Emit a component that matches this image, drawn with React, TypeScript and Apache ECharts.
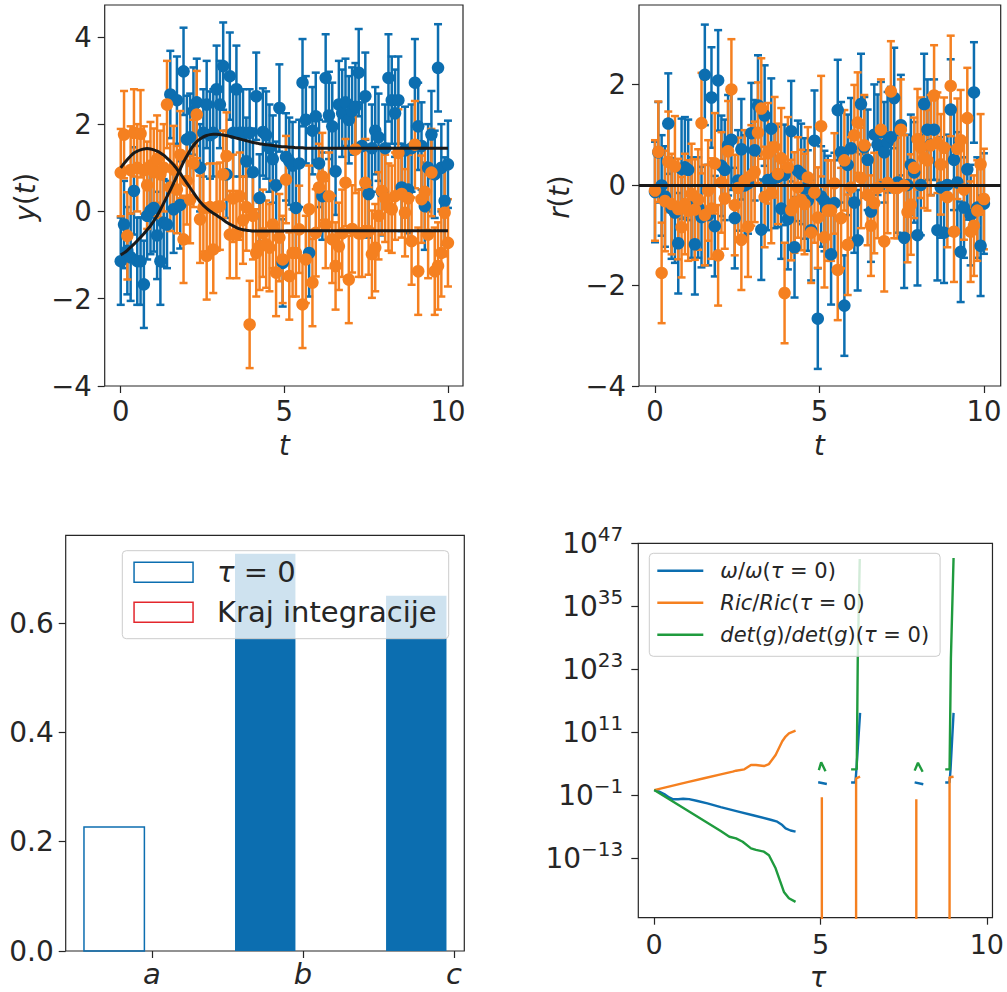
import React, { useEffect, useRef } from "react";
import * as echarts from "echarts";

const FONT = '"DejaVu Sans", Verdana, sans-serif';
const BLUE = "#0c6eb0";
const ORANGE = "#f58020";
const GREEN = "#1f9b3e";
const RED = "#e3262c";
const INK = "#262626";
const CURVE = "#1a1a1a";

// ---------- top panels: y(t) with error bars, model curves ----------
const N = 100;
const tValues = Array.from({ length: N }, (_, i) => (i * 10) / (N - 1));
const sigma = 1.0;

const yBlue = [
  -1.14, -0.3, -0.9, -1.05, 0.47, -1.14, -1.14, -1.67, -0.1, 0.02,
  0.08, -0.55, -1.14, -0.26, -0.3, 2.68, 0.05, 2.55, 0.15, 3.21,
  1.65, 1.7, 2.3, 2.5, 1.0, 1.8, 2.45, 1.75, 1.8, 2.8,
  2.45, 3.33, 0.85, 3.1, 1.8, 2.8, 1.8, 1.8, 1.15, 1.8,
  0.9, 2.64, 0.31, 1.82, 1.75, 1.45, 1.2, 0.6, 2.37, -1.18,
  1.25, 1.15, 1.05, 0.08, 1.1, 2.95, 2.1, -0.95, 1.85, 2.18,
  1.1, 0.35, 3.06, 2.2, 1.95, 0.92, 2.45, 2.25, 2.5, 2.1,
  2.3, 2.4, 3.18, 1.5, 2.64, 0.4, 1.45, 1.85, 1.7, 0.45,
  1.45, 3.06, 2.55, 2.25, 2.55, 0.55, 1.4, 0.5, 1.45, 2.95,
  1.95, 1.5, 0.12, 1.0, 1.76, 0.85, 3.29, 1.0, 0.24, 1.08,
];

const yOrange = [
  0.89, 1.76, -0.56, 0.95, 1.8, 1.0, 1.78, 0.95, 0.6, 1.05,
  0.9, 1.2, 0.85, 1.0, 2.45, 0.55, 0.96, 0.5, 1.3, -0.64,
  0.7, 0.27, 1.1, 2.22, -0.18, 0.08, -1.02, 0.1, -0.87, 0.1,
  0.12, 0.85, 1.27, -0.53, 0.3, -0.53, 0.35, -0.2, 0.1, -2.59,
  -0.1, -0.95, -0.8, -0.5, -0.75, -0.83, -0.3, -1.4, -0.6, -1.1,
  0.73, -1.48, -0.95, -0.95, -0.41, -2.13, -1.1, 0.05, -1.63, -0.49,
  0.55, 0.8, -0.3, 0.35, -0.64, -1.25, -0.8, -0.5, 0.66, -1.56,
  -0.4, 1.42, -0.5, -0.5, 0.66, -0.45, -0.98, -0.83, -0.1, 0.47,
  0.3, 0.1, 0.05, 0.35, 1.34, 0.4, -0.03, 0.3, -0.68, 1.53,
  -1.37, 0.28, 0.45, -0.53, 0.89, -1.37, -1.25, -0.95, -0.03, -0.72,
];

const modelBlue = [
  -1.0, -0.95, -0.89, -0.82, -0.75, -0.67, -0.59, -0.51, -0.42, -0.33,
  -0.22, -0.1, 0.04, 0.19, 0.34, 0.49, 0.65, 0.81, 0.97, 1.13,
  1.27, 1.4, 1.51, 1.6, 1.66, 1.71, 1.74, 1.76, 1.77, 1.77,
  1.76, 1.75, 1.74, 1.72, 1.7, 1.68, 1.66, 1.64, 1.62, 1.6,
  1.58, 1.57, 1.55, 1.54, 1.53, 1.52, 1.51, 1.5, 1.49, 1.48,
  1.48, 1.47, 1.47, 1.46, 1.46, 1.46, 1.45, 1.45, 1.45, 1.45,
  1.45, 1.45, 1.45, 1.45, 1.45, 1.45, 1.45, 1.45, 1.45, 1.45,
  1.45, 1.45, 1.45, 1.45, 1.45, 1.45, 1.45, 1.45, 1.45, 1.45,
  1.45, 1.45, 1.45, 1.45, 1.45, 1.45, 1.45, 1.45, 1.45, 1.45,
  1.45, 1.45, 1.45, 1.45, 1.45, 1.45, 1.45, 1.45, 1.45, 1.45,
];

const modelOrange = [
  1.0, 1.1, 1.19, 1.27, 1.34, 1.38, 1.41, 1.43, 1.44, 1.43,
  1.41, 1.38, 1.34, 1.29, 1.22, 1.15, 1.07, 0.97, 0.87, 0.76,
  0.65, 0.54, 0.43, 0.32, 0.22, 0.14, 0.07, 0.01, -0.04, -0.09,
  -0.14, -0.19, -0.25, -0.29, -0.33, -0.37, -0.4, -0.42, -0.43, -0.44,
  -0.45, -0.45, -0.45, -0.45, -0.45, -0.45, -0.45, -0.45, -0.45, -0.45,
  -0.44, -0.44, -0.44, -0.44, -0.44, -0.44, -0.44, -0.44, -0.44, -0.44,
  -0.44, -0.44, -0.44, -0.44, -0.44, -0.44, -0.44, -0.44, -0.44, -0.44,
  -0.44, -0.44, -0.44, -0.44, -0.44, -0.44, -0.44, -0.44, -0.44, -0.44,
  -0.44, -0.44, -0.44, -0.44, -0.44, -0.44, -0.44, -0.44, -0.44, -0.44,
  -0.44, -0.44, -0.44, -0.44, -0.44, -0.44, -0.44, -0.44, -0.44, -0.44,
];

const topXTicks = [0, 5, 10];
const yTicksLeft = [-4, -2, 0, 2, 4];
const yTicksRight = [-4, -2, 0, 2];

// ---------- bottom-left: bars ----------
const barCategories = ["a", "b", "c"];
const barTau0 = [0.227, 0.727, 0.65];
const barTau0Filled = [false, true, true];
const barKraj: number[] = [];
const barYTicks = [0, 0.2, 0.4, 0.6];
const barXTicks = [0, 1, 2];

// ---------- bottom-right: log10 of ratios vs tau (null = gap) ----------
const omegaLog: (number[] | null)[] = [
  [0, 0], [0.15, -0.3], [0.3, -0.75], [0.45, -1.4], [0.57, -1.76], [0.72, -1.75], [0.87, -1.65],
  [1.05, -1.72], [1.27, -2.03], [1.6, -2.55], [2.0, -3.25], [2.5, -4.05], [3.0, -4.85],
  [3.5, -5.65], [3.7, -6.03], [3.85, -6.66], [3.95, -7.29], [4.1, -7.7], [4.25, -7.93],
  null,
  [4.93, 1.48], [5.19, 1.15],
  null,
  [5.92, 1.45], [6.05, 1.45], [6.08, 4.0], [6.19, 14.7],
  null,
  [7.83, 1.48], [8.09, 1.1],
  null,
  [8.75, 1.45], [8.88, 1.45], [8.91, 4.0], [9.0, 14.7],
];
const ricLog: (number[] | null)[] = [
  [0, 0], [0.5, 0.75], [1.0, 1.5], [1.5, 2.25], [2.0, 3.0], [2.36, 3.5], [2.46, 3.69],
  [2.71, 3.95], [2.91, 4.77], [3.06, 4.77], [3.3, 4.58], [3.45, 4.96], [3.65, 6.68],
  [3.85, 9.3], [3.95, 10.2], [4.05, 10.8], [4.25, 11.3],
  null,
  [5.04, -60], [5.04, -1.38],
  null,
  [6.07, -60], [6.07, 2.24], [6.19, 2.54],
  null,
  [7.88, -60], [7.88, -1.76],
  null,
  [8.88, -60], [8.88, 2.43], [9.0, 2.54],
];
const detLog: (number[] | null)[] = [
  [0, 0], [0.5, -1.95], [1.0, -3.9], [1.5, -5.85], [2.0, -7.8], [2.26, -8.89], [2.46, -9.2],
  [2.66, -9.84], [2.91, -11.1], [3.06, -11.4], [3.3, -11.74], [3.45, -12.4], [3.65, -14.9],
  [3.9, -19.4], [4.05, -20.6], [4.25, -21.3],
  null,
  [4.95, 3.8], [5.02, 5.3], [5.15, 3.6],
  null,
  [5.92, 3.95], [6.09, 3.95], [6.12, 25], [6.18, 44],
  null,
  [7.83, 3.7], [7.93, 5.21], [8.07, 3.5],
  null,
  [8.75, 3.95], [8.88, 3.95], [8.92, 25], [9.0, 44.2],
];
const brXTicks = [0, 5, 10];
const brYTicks = [-13, -1, 11, 23, 35, 47];

// ---------- styles ----------
const BAR_OFFSET = -0.25;
const BAR_WIDTH = 0.4;
const minus = (v: number) => (v < 0 ? "\u2212" + String(-v) : String(v));

function axis(gridIndex: number, min: number, max: number, ticks: number[], label: any) {
  return {
    type: "value",
    gridIndex,
    min,
    max,
    axisLine: { show: false, onZero: false },
    splitLine: { show: false },
    axisTick: { show: true, length: 7, inside: false, customValues: ticks, lineStyle: { color: INK, width: 1.2 } },
    axisLabel: Object.assign(
      { customValues: ticks, color: INK, fontFamily: FONT, showMinLabel: true, showMaxLabel: true },
      label
    ),
  };
}

function errorBars(idx: number, ys: number[], color: string) {
  return {
    type: "custom",
    xAxisIndex: idx,
    yAxisIndex: idx,
    silent: true,
    encode: { x: 0, y: 1 },
    data: tValues.map((t, i) => [t, ys[i], sigma]),
    renderItem: (params: any, api: any) => {
      const x = api.value(0);
      const y = api.value(1);
      const e = api.value(2);
      const hi = api.coord([x, y + e]);
      const lo = api.coord([x, y - e]);
      const c = 4;
      const st = { stroke: color, lineWidth: 2.5, fill: null };
      return {
        type: "group",
        children: [
          { type: "line", shape: { x1: hi[0], y1: hi[1], x2: lo[0], y2: lo[1] }, style: st },
          { type: "line", shape: { x1: hi[0] - c, y1: hi[1], x2: hi[0] + c, y2: hi[1] }, style: st },
          { type: "line", shape: { x1: lo[0] - c, y1: lo[1], x2: lo[0] + c, y2: lo[1] }, style: st },
        ],
      };
    },
  };
}

function markers(idx: number, ys: number[], color: string, extra: any = {}) {
  return Object.assign(
    {
      type: "scatter",
      xAxisIndex: idx,
      yAxisIndex: idx,
      silent: true,
      symbolSize: 12.5,
      itemStyle: { color, opacity: 1 },
      data: tValues.map((t, i) => [t, ys[i]]),
    },
    extra
  );
}

function curve(ys: number[]) {
  return {
    type: "line",
    xAxisIndex: 0,
    yAxisIndex: 0,
    silent: true,
    showSymbol: false,
    smooth: 0.3,
    lineStyle: { color: CURVE, width: 3 },
    data: tValues.map((t, i) => [t, ys[i]]),
  };
}

function brLine(name: string, pts: (number[] | null)[], color: string) {
  return {
    type: "line",
    name,
    xAxisIndex: 3,
    yAxisIndex: 3,
    silent: true,
    showSymbol: false,
    connectNulls: false,
    clip: true,
    color,
    lineStyle: { color, width: 2.4 },
    data: pts.map((p) => (p ? p : ["-", "-"])),
  };
}

const rBlue = yBlue.map((v, i) => v - modelBlue[i]);
const rOrange = yOrange.map((v, i) => v - modelOrange[i]);

const L_OMEGA = "ω/ω(τ = 0)";
const L_RIC = "Ric/Ric(τ = 0)";
const L_DET = "det(g)/det(g)(τ = 0)";
const L_TAU0 = "τ = 0";
const L_KRAJ = "Kraj integracije";

const richLegend: Record<string, string> = {
  [L_OMEGA]: "{i|ω}{n|/}{i|ω}{n|(}{i|τ}{n| = 0)}",
  [L_RIC]: "{i|Ric}{n|/}{i|Ric}{n|(}{i|τ}{n| = 0)}",
  [L_DET]: "{i|det}{n|(}{i|g}{n|)/}{i|det}{n|(}{i|g}{n|)(}{i|τ}{n| = 0)}",
  [L_TAU0]: "{i|τ}{n| = 0}",
  [L_KRAJ]: "{n|Kraj integracije}",
};

function richPair(size: number, lh: number) {
  return {
    i: { fontFamily: FONT, fontSize: size, fontStyle: "italic", color: INK, lineHeight: lh },
    n: { fontFamily: FONT, fontSize: size, color: INK, lineHeight: lh },
  };
}

function axisTitle(text: string, x: number, y: number, rotate: boolean) {
  return {
    type: "text",
    x,
    y,
    rotation: rotate ? Math.PI / 2 : 0,
    silent: true,
    style: {
      text,
      rich: richPair(27.5, 32),
      fill: INK,
      align: "center",
      verticalAlign: "middle",
      textAlign: "center",
      textVerticalAlign: "middle",
    },
  };
}

function buildOption(): any {
  const gridBase = { show: true, borderColor: INK, borderWidth: 1.2, backgroundColor: "transparent", containLabel: false };
  return {
    animation: false,
    backgroundColor: "#ffffff",
    grid: [
      Object.assign({ left: 104.7, top: 5, width: 358.3, height: 381 }, gridBase),
      Object.assign({ left: 639, top: 5, width: 361.7, height: 381 }, gridBase),
      Object.assign({ left: 65.7, top: 535.3, width: 398.6, height: 415.7 }, gridBase),
      Object.assign({ left: 638.3, top: 543.3, width: 356.7, height: 374.4 }, gridBase),
    ],
    xAxis: [
      axis(0, -0.49, 10.46, topXTicks, { fontSize: 27.5, margin: 11 }),
      axis(1, -0.486, 10.51, topXTicks, { fontSize: 27.5, margin: 11 }),
      axis(2, -0.571, 2.068, barXTicks, {
        fontSize: 29,
        fontStyle: "italic",
        margin: 8,
        formatter: (v: number) => barCategories[Math.round(v)],
      }),
      axis(3, -0.478, 10.17, brXTicks, { fontSize: 27, margin: 13 }),
    ],
    yAxis: [
      axis(0, -4, 4.73, yTicksLeft, { fontSize: 27.5, margin: 13, formatter: (v: number) => minus(v) }),
      axis(1, -4, 3.58, yTicksRight, { fontSize: 27.5, margin: 13, formatter: (v: number) => minus(v) }),
      axis(2, 0, 0.7606, barYTicks, { fontSize: 28, margin: 12, formatter: (v: number) => v.toFixed(1) }),
      axis(3, -24.31, 47, brYTicks, {
        margin: 15,
        formatter: (v: number) => "{b|10}{s|" + minus(v) + "}",
        rich: {
          b: { fontFamily: FONT, fontSize: 28, color: INK, lineHeight: 28, verticalAlign: "bottom" },
          s: { fontFamily: FONT, fontSize: 20, color: INK, lineHeight: 20, verticalAlign: "bottom", padding: [0, 0, 13, 0] },
        },
      }),
    ],
    legend: [
      {
        data: [
          { name: L_TAU0, icon: "rect", itemStyle: { color: "rgba(0,0,0,0)", borderColor: BLUE, borderWidth: 1.5 } },
          { name: L_KRAJ, icon: "rect", itemStyle: { color: "rgba(0,0,0,0)", borderColor: RED, borderWidth: 1.5 } },
        ],
        orient: "vertical",
        left: 122.3,
        top: 550.7,
        itemWidth: 59,
        itemHeight: 20,
        itemGap: 11,
        padding: [7, 12, 12, 11],
        backgroundColor: "rgba(255,255,255,0.8)",
        borderColor: "#cccccc",
        borderWidth: 1,
        borderRadius: 4,
        selectedMode: false,
        formatter: (name: string) => richLegend[name],
        textStyle: { padding: [0, 0, 0, 19], rich: richPair(29, 32) },
      },
      {
        data: [
          { name: L_OMEGA, icon: "rect", itemStyle: { color: BLUE, borderWidth: 0 } },
          { name: L_RIC, icon: "rect", itemStyle: { color: ORANGE, borderWidth: 0 } },
          { name: L_DET, icon: "rect", itemStyle: { color: GREEN, borderWidth: 0 } },
        ],
        orient: "vertical",
        left: 649.3,
        top: 553.3,
        itemWidth: 46,
        itemHeight: 2.6,
        itemGap: 11,
        padding: [7, 11, 11, 8],
        backgroundColor: "rgba(255,255,255,0.8)",
        borderColor: "#cccccc",
        borderWidth: 1,
        borderRadius: 4,
        selectedMode: false,
        formatter: (name: string) => richLegend[name],
        textStyle: { padding: [0, 0, 0, 12], rich: richPair(21, 22) },
      },
    ],
    graphic: [
      axisTitle("{i|y}{n|(}{i|t}{n|)}", 25, 197, true),
      axisTitle("{i|r}{n|(}{i|t}{n|)}", 559, 197, true),
      axisTitle("{i|t}", 284.3, 445, false),
      axisTitle("{i|t}", 819.3, 445, false),
      axisTitle("{i|τ}", 818, 977, false),
    ],
    series: [
      curve(modelBlue),
      curve(modelOrange),
      errorBars(0, yBlue, BLUE),
      markers(0, yBlue, BLUE),
      errorBars(0, yOrange, ORANGE),
      markers(0, yOrange, ORANGE),

      errorBars(1, rBlue, BLUE),
      markers(1, rBlue, BLUE),
      errorBars(1, rOrange, ORANGE),
      markers(1, rOrange, ORANGE, {
        markLine: {
          silent: true,
          symbol: ["none", "none"],
          label: { show: false },
          lineStyle: { color: CURVE, width: 2.8, type: "solid" },
          data: [{ yAxis: 0 }],
        },
      }),

      {
        type: "custom",
        name: L_TAU0,
        xAxisIndex: 2,
        yAxisIndex: 2,
        silent: true,
        encode: { x: 0, y: 1 },
        itemStyle: { color: "rgba(0,0,0,0)", borderColor: BLUE, borderWidth: 1.5 },
        data: barTau0.map((v, i) => [i, v]),
        renderItem: (params: any, api: any) => {
          const x = api.value(0);
          const h = api.value(1);
          const p0 = api.coord([x + BAR_OFFSET - BAR_WIDTH / 2, h]);
          const p1 = api.coord([x + BAR_OFFSET + BAR_WIDTH / 2, 0]);
          const filled = barTau0Filled[params.dataIndex];
          return {
            type: "rect",
            shape: { x: p0[0], y: p0[1], width: p1[0] - p0[0], height: p1[1] - p0[1] },
            style: filled ? { fill: BLUE, stroke: null } : { fill: "none", stroke: BLUE, lineWidth: 1.5 },
          };
        },
      },
      {
        type: "custom",
        name: L_KRAJ,
        xAxisIndex: 2,
        yAxisIndex: 2,
        silent: true,
        itemStyle: { color: "rgba(0,0,0,0)", borderColor: RED, borderWidth: 1.5 },
        data: barKraj.map((v, i) => [i, v]),
        renderItem: () => null,
      },

      brLine(L_OMEGA, omegaLog, BLUE),
      brLine(L_RIC, ricLog, ORANGE),
      brLine(L_DET, detLog, GREEN),
    ],
  };
}

export default function App() {
  const ref = useRef<HTMLDivElement>(null);
  useEffect(() => {
    const chart = echarts.init(ref.current as HTMLDivElement, null, { renderer: "svg" });
    chart.setOption(buildOption());
    return () => chart.dispose();
  }, []);
  return (
    <div
      ref={ref}
      style={{ position: "absolute", left: 0, top: 0, width: 1007, height: 992, background: "#fff" }}
    />
  );
}
